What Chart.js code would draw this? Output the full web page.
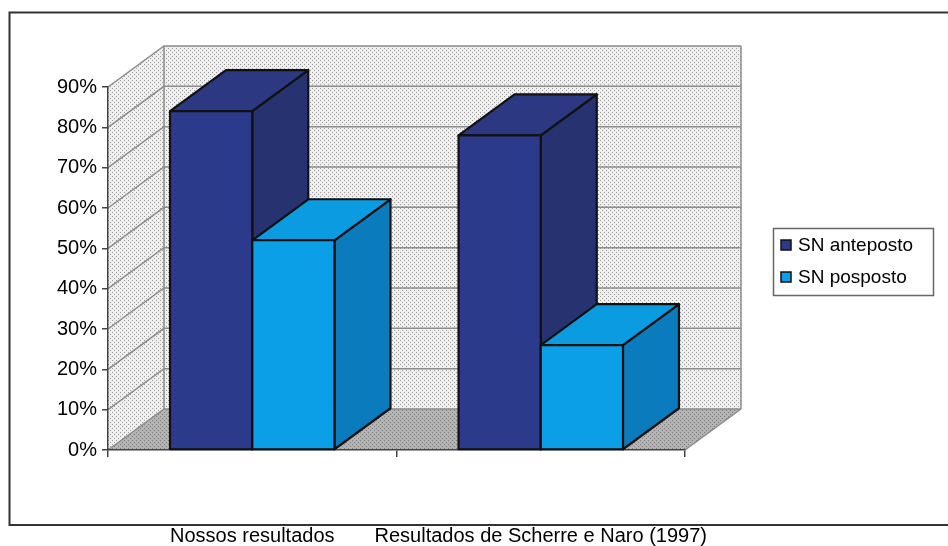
<!DOCTYPE html>
<html>
<head>
<meta charset="utf-8">
<script src="https://cdn.jsdelivr.net/npm/chart.js@4.4.1/dist/chart.umd.min.js"></script>
<style>
  html, body { margin: 0; padding: 0; background: #fff; }
  canvas { display: block; }
</style>
</head>
<body>
<canvas id="chart" width="948" height="546"></canvas>
<script>
// Share of SN (noun phrase) position, in percent
const categories = ['Nossos resultados', 'Resultados de Scherre e Naro (1997)'];
const seriesNames = ['SN anteposto', 'SN posposto'];
const anteposto = [84, 78];
const posposto = [52, 26];
const yTicks = [0, 10, 20, 30, 40, 50, 60, 70, 80, 90];

// Faces of each 3D column: front, right side, top
const faceColors = [
  { front: '#2c3a8c', side: '#273270', top: '#2c3882' },
  { front: '#0a9fe6', side: '#0a7cbd', top: '#0b9be0' }
];

// Depth offset of the 3D box (back plane relative to front plane)
const DX = 56, DY = -41;
const FONT = '"Liberation Sans", Arial, sans-serif';

function dotPattern(ctx, bg, dot) {
  const p = document.createElement('canvas');
  p.width = 4; p.height = 4;
  const g = p.getContext('2d');
  g.fillStyle = bg; g.fillRect(0, 0, 4, 4);
  g.fillStyle = dot; g.fillRect(0, 0, 1, 1); g.fillRect(2, 2, 1, 1);
  return ctx.createPattern(p, 'repeat');
}

function poly(ctx, pts, fill, stroke, lw) {
  ctx.beginPath();
  ctx.moveTo(pts[0][0], pts[0][1]);
  for (let i = 1; i < pts.length; i++) ctx.lineTo(pts[i][0], pts[i][1]);
  ctx.closePath();
  if (fill) { ctx.fillStyle = fill; ctx.fill(); }
  if (stroke) { ctx.strokeStyle = stroke; ctx.lineWidth = lw || 1; ctx.stroke(); }
}

const box3d = {
  id: 'box3d',
  beforeDraw(chart) {
    const { ctx, chartArea: a, scales: { y } } = chart;
    const L = a.left, R = a.right;
    const T = y.getPixelForValue(yTicks[yTicks.length - 1]);
    const B = y.getPixelForValue(0);
    ctx.save();
    ctx.fillStyle = '#fff';
    ctx.fillRect(0, 0, chart.width, chart.height);

    // outer frame
    ctx.strokeStyle = '#333';
    ctx.lineWidth = 2;
    ctx.strokeRect(9.5, 12.5, 960, 512.5);

    const wall = dotPattern(ctx, '#efefef', '#9a9a9a');
    const floor = dotPattern(ctx, '#b4b4b4', '#7a7a7a');

    // side wall, back wall, floor
    poly(ctx, [[L, B], [L, T], [L + DX, T + DY], [L + DX, B + DY]], wall);
    poly(ctx, [[L + DX, T + DY], [R + DX, T + DY], [R + DX, B + DY], [L + DX, B + DY]], wall);
    poly(ctx, [[L, B], [L + DX, B + DY], [R + DX, B + DY], [R, B]], floor);

    // gridlines on side and back walls
    ctx.strokeStyle = '#8c8c8c';
    ctx.lineWidth = 1.5;
    yTicks.forEach(v => {
      const py = y.getPixelForValue(v);
      ctx.beginPath();
      ctx.moveTo(L, py);
      ctx.lineTo(L + DX, py + DY);
      ctx.lineTo(R + DX, py + DY);
      ctx.stroke();
    });
    // wall edges
    ctx.beginPath();
    ctx.moveTo(L + DX, T + DY); ctx.lineTo(L + DX, B + DY);
    ctx.moveTo(R + DX, T + DY); ctx.lineTo(R + DX, B + DY);
    ctx.moveTo(R, B); ctx.lineTo(R + DX, B + DY);
    ctx.stroke();
    ctx.restore();
  },
  beforeDatasetsDraw(chart) {
    const ctx = chart.ctx;
    ctx.save();
    ctx.lineJoin = 'round';
    categories.forEach((c, i) => {
      chart.data.datasets.forEach((ds, d) => {
        const el = chart.getDatasetMeta(d).data[i];
        const { x, y, base, width } = el.getProps(['x', 'y', 'base', 'width'], true);
        const x1 = x - width / 2, x2 = x + width / 2;
        const col = faceColors[d];
        poly(ctx, [[x2, y], [x2 + DX, y + DY], [x2 + DX, base + DY], [x2, base]], col.side, '#111', 2.2);
        poly(ctx, [[x1, y], [x1 + DX, y + DY], [x2 + DX, y + DY], [x2, y]], col.top, '#111', 2.2);
        poly(ctx, [[x1, y], [x2, y], [x2, base], [x1, base]], col.front, '#111', 2.2);
      });
    });
    ctx.restore();
    return false;
  },
  afterDraw(chart) {
    // legend box
    const ctx = chart.ctx;
    ctx.save();
    ctx.strokeStyle = '#666';
    ctx.lineWidth = 1.5;
    ctx.strokeRect(773.5, 228.5, 160, 67);
    ctx.font = '19px ' + FONT;
    ctx.textBaseline = 'middle';
    ctx.textAlign = 'left';
    seriesNames.forEach((name, k) => {
      const cy = 245 + k * 32;
      ctx.fillStyle = faceColors[k].front;
      ctx.fillRect(781, cy - 5, 10, 10);
      ctx.strokeStyle = '#111';
      ctx.lineWidth = 1.5;
      ctx.strokeRect(781, cy - 5, 10, 10);
      ctx.fillStyle = '#000';
      ctx.fillText(name, 798, cy + 1);
    });
    ctx.restore();
  }
};

new Chart(document.getElementById('chart'), {
  type: 'bar',
  data: {
    labels: categories,
    datasets: [
      { label: seriesNames[0], data: anteposto, backgroundColor: faceColors[0].front },
      { label: seriesNames[1], data: posposto, backgroundColor: faceColors[1].front }
    ]
  },
  options: {
    responsive: false,
    animation: false,
    devicePixelRatio: 1,
    categoryPercentage: 0.57,
    barPercentage: 1,
    layout: { padding: { left: 0, top: 87, right: 263, bottom: 0 } },
    plugins: { legend: { display: false }, tooltip: { enabled: false } },
    scales: {
      y: {
        min: 0, max: 90,
        afterBuildTicks(s) { s.ticks = yTicks.map(v => ({ value: v })); },
        afterFit(s) { s.width = 108; },
        ticks: { callback: v => v + '%', color: '#000', padding: 5, font: { family: FONT, size: 20 } },
        grid: { drawOnChartArea: false, drawTicks: true, tickLength: 6, color: '#444', lineWidth: 1.5 },
        border: { color: '#444', width: 1.5 }
      },
      x: {
        offset: true,
        afterFit(s) { s.height = 96; },
        ticks: { padding: 67, color: '#000', maxRotation: 0, autoSkip: false, font: { family: FONT, size: 20 } },
        grid: { offset: true, drawOnChartArea: false, drawTicks: true, tickLength: 7, color: '#444', lineWidth: 1.5 },
        border: { color: '#444', width: 1.5 }
      }
    }
  },
  plugins: [box3d]
});
</script>
</body>
</html>
